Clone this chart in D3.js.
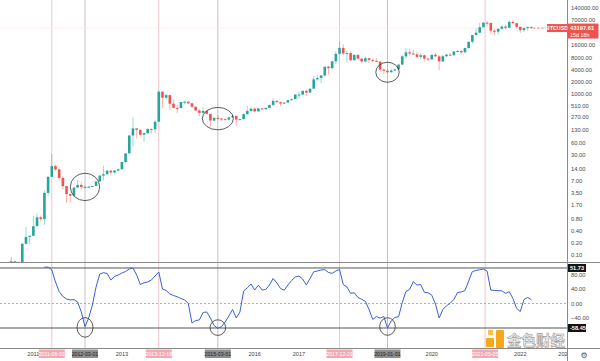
<!DOCTYPE html>
<html><head><meta charset="utf-8">
<script src="https://cdn.jsdelivr.net/npm/d3@7"></script>
<style>body{margin:0;background:#fff}svg{display:block}</style>
</head><body>
<svg id="c" width="600" height="361"></svg>
<script>
// ---------------- DATA ----------------
const firstMonth = "2010-07";           // first monthly candle
// BTCUSD monthly candles [open, high, low, close]
const btcMonthly = [
  // 2010 Jul-Dec
  [0.05,0.09,0.05,0.07],[0.07,0.07,0.06,0.06],[0.06,0.07,0.06,0.06],[0.06,0.20,0.06,0.19],[0.19,0.50,0.19,0.28],[0.28,0.30,0.18,0.30],
  // 2011
  [0.30,0.95,0.29,0.52],[0.52,1.10,0.52,0.86],[0.86,0.95,0.68,0.78],[0.78,4.00,0.56,3.50],[3.50,9.00,3.00,8.74],[8.74,31.9,8.70,16.1],
  [16.1,17.5,12.0,13.35],[13.35,15.0,7.0,8.2],[8.2,9.0,4.2,5.14],[5.14,5.15,2.0,3.25],[3.25,3.5,2.0,2.97],[2.97,4.7,2.8,4.72],
  // 2012
  [4.72,7.4,4.7,5.5],[5.5,6.3,4.2,4.86],[4.86,5.4,4.7,4.9],[4.9,5.2,4.7,4.97],[4.97,5.2,4.9,5.19],[5.19,6.8,5.2,6.7],
  [6.7,9.7,6.5,9.35],[9.35,16.4,7.1,10.12],[10.12,12.9,9.9,12.4],[12.4,12.9,9.8,11.2],[11.2,12.8,10.5,12.55],[12.55,14.0,12.2,13.5],
  // 2013
  [13.5,20.7,13.2,20.4],[20.4,33.4,19.1,33.4],[33.4,95,33.2,93],[93,266,50,139],[139,140,79,128],[128,129.8,88,97],
  [97,110,65,106],[106,138,100,135],[135,139,105,132],[132,220,105,204],[204,1242,197,1130],[1130,1160,450,805],
  // 2014
  [805,1000,730,935],[935,950,400,570],[570,720,450,450],[450,540,340,445],[445,630,440,630],[630,680,550,640],
  [640,650,565,585],[585,600,445,480],[480,490,370,387],[387,415,275,338],[338,460,322,378],[378,385,310,320],
  // 2015
  [320,320,152,218],[218,265,212,254],[254,300,235,244],[244,262,213,236],[236,247,225,230],[230,268,218,263],
  [263,318,253,284],[284,285,162,230],[230,245,225,236],[236,335,235,314],[314,502,300,377],[377,468,348,430],
  // 2016
  [430,462,350,368],[368,448,365,437],[437,440,393,416],[416,467,414,448],[448,550,437,532],[532,780,500,673],
  [673,703,605,624],[624,628,500,575],[575,611,570,609],[609,720,608,700],[700,754,683,742],[742,980,742,964],
  // 2017
  [964,1150,750,965],[965,1200,920,1190],[1190,1290,890,1080],[1080,1350,1060,1350],[1350,2760,1350,2300],[2300,3000,2100,2480],
  [2480,2920,1830,2870],[2870,4750,2700,4730],[4730,5000,2970,4340],[4340,6470,4100,6450],[6450,11400,5500,9900],[9900,19700,9500,13900],
  // 2018
  [13900,17200,9200,10100],[10100,11800,6000,10300],[10300,11700,6500,6900],[6900,9800,6500,9250],[9250,10000,7100,7500],[7500,7800,5750,6400],
  [6400,8500,6100,7730],[7730,7760,5880,7000],[7000,7400,6100,6630],[6630,7700,6200,6320],[6320,6600,3600,4000],[4000,4300,3120,3740],
  // 2019
  [3740,4100,3350,3450],[3450,4200,3400,3820],[3820,4100,3750,4100],[4100,5600,4050,5350],[5350,9100,5330,8570],[8570,13880,7500,10800],
  [10800,13200,9100,10080],[10080,12330,9400,9600],[9600,10950,7700,8300],[8300,10350,7300,9150],[9150,9500,6500,7550],[7550,7750,6430,7200],
  // 2020
  [7200,9580,6860,9350],[9350,10500,8450,8550],[8550,9190,3850,6430],[6430,9470,6150,8630],[8630,10080,8100,9450],[9450,10400,8830,9140],
  [9140,11450,8980,11350],[11350,12480,10950,11650],[11650,12080,9880,10780],[10780,14100,10380,13800],[13800,19900,13200,19700],[19700,29300,17600,28990],
  // 2021
  [28990,41950,28130,33100],[33100,58350,32300,45200],[45200,61780,45000,58800],[58800,64900,47000,57700],[57700,59600,30000,37300],[37300,41300,28800,35000],
  [35000,42400,29300,41500],[41500,50500,37300,47100],[47100,52900,39600,43800],[43800,67000,43300,61300],[61300,69000,53300,57000],[57000,59100,42000,46200],
  // 2022 Jan-Apr
  [46200,47990,32900,38480],[38480,45800,34300,43190],[43190,48200,37200,45530],[45530,47400,42100,43197.61]
];
const lastPrice = "43197.61";
const lastPriceCountdown = "15d 18h";
const symbol = "BTCUSD";

// oscillator (monthly, from 2011-04)
const oscFirstMonth = "2011-04";
const oscValues = [
  100,100.7,92.4,59.3,33.1,19.3,12.4,9.7,11,
  4.1,-23.4,-64,-40,-4.1,45.5,81.4,85,82.8,64.8,74.5,78.6,
  84.1,88.3,95.2,97.9,78.6,52.4,57.4,59.3,64.8,75.9,86.9,40,
  35.9,26.2,22.1,18.5,13.8,9.7,0.6,-53.8,-46.9,-45.5,-24.8,-23.4,
  -40,-60.7,-68.4,-64,-51,-34.5,-16.6,-40,-23.4,34.5,43.3,53.8,
  37.2,50.5,37.2,38.6,51,69,56.6,41.4,36.7,51,63.4,73.1,
  75.9,67.6,51,69,87.4,89.7,92.4,93.5,85.5,83.3,89.7,93.8,
  52.4,45.5,28.1,29.5,16.6,11.6,6.1,-16.6,-44.1,-35.6,-40.6,-35.9,
  -67.6,-48.3,-38.3,-36.7,2.8,33.1,38.9,60.1,51,52.4,30.9,29.5,
  22.9,-1.4,-40,-16.6,-6.3,0.8,11.3,30.3,31.7,35.9,62.1,88.3,
  91,93,95.2,89.1,37.2,35.9,35.3,35,27.9,32.6,13.8,-13.5,
  -22.1,11,16.6,10.2
];
const oscBandLevels = [98, -67.6];
const oscBandTags = ["51.73", "-58.45"];
const oscTicks = [80, 40, 0, -40];

const priceTicks = [140000,70000,16000,8000,4000,2000,1000,510,270,130,60,30,14,7,3.5,1.7,0.8,0.4,0.2,0.1];
const yearTicks = ["2011-01-01","2013-01-01","2016-01-01","2017-01-01","2020-01-01","2022-01-01","2023-01-01"];

// vertical marker lines: label text and the bar they sit on
const markerLabels = ["2011-06-01","2012-03-01","2013-12-18","2015-03-01","2017-12-21","2019-01-01","2021-05-05"];
const markerBars   = ["2011-06-01","2012-03-01","2013-11-01","2015-03-01","2017-12-01","2019-01-01","2021-03-15"];
const markerKinds  = ["top","bottom","top","bottom","top","bottom","top"];

// circled areas: [bar date, value, rx, ry]
const priceCircles = [["2012-03-01",4.9,14.7,13.7],["2015-03-01",244,15.5,11.2],["2019-01-01",3450,11.7,10]];
const oscCircles = [["2012-03-01",-66,8,9.8],["2015-03-01",-66.5,7.8,7.8],["2019-01-01",-63.5,7.8,8.8]];

// ---------------- HELPERS ----------------
function monthIndex(s){ // months since 2010-01, fractional by day
  const p = s.split("-").map(Number);
  return (p[0]-2010)*12 + (p[1]-1) + ((p[2]||1)-1)/30.5;
}
const W = 600, H = 361;
const axisX = 567.5;
const priceTop = 0, priceBottom = 262;
const oscTop = 262, oscBottom = 348;

const x = d3.scaleLinear().domain([monthIndex("2012-03-01"), monthIndex("2019-01-01")]).range([85, 387.5]);
const y = d3.scaleLog().domain([0.1, 140000]).range([255, 7.5]);
const yo = d3.scaleLinear().domain([-40, 80]).range([318, 274.5]);

const svg = d3.select("#c");
const font = "'Liberation Sans', Arial, sans-serif";
svg.append("rect").attr("width",W).attr("height",H).attr("fill","#fff");

const bars = btcMonthly.map((d,i)=>({mi: monthIndex(firstMonth)+i, o:d[0], h:d[1], l:d[2], c:d[3]}));

svg.append("clipPath").attr("id","pc").append("rect").attr("x",0).attr("y",priceTop).attr("width",axisX).attr("height",priceBottom-priceTop);
svg.append("clipPath").attr("id","oc").append("rect").attr("x",0).attr("y",oscTop).attr("width",axisX).attr("height",oscBottom-oscTop);

// marker vertical lines
const mk = markerBars.map((b,i)=>({x:x(monthIndex(b)), label:markerLabels[i], kind:markerKinds[i]}));
svg.append("g").selectAll("line").data(mk).join("line")
  .attr("x1",d=>d.x).attr("x2",d=>d.x).attr("y1",0).attr("y2",oscBottom)
  .attr("stroke",d=>d.kind==="top"?"#f3c4ca":"#c2c2c2").attr("stroke-width",1);

// last-price line
const lastClose = bars[bars.length-1].c;
svg.append("line").attr("x1",0).attr("x2",axisX).attr("y1",y(lastClose)).attr("y2",y(lastClose))
  .attr("stroke","#f8e2e2").attr("stroke-width",0.7);
svg.append("line").attr("x1",x(bars[bars.length-1].mi)+2).attr("x2",547).attr("y1",y(lastClose)).attr("y2",y(lastClose))
  .attr("stroke","#ef5350").attr("stroke-width",0.8).attr("stroke-dasharray","2,2");

// candles
const gC = svg.append("g").attr("clip-path","url(#pc)");
const up = "#26a69a", dn = "#ef5350";
gC.selectAll("line.w").data(bars).join("line").attr("class","w")
  .attr("x1",d=>x(d.mi)).attr("x2",d=>x(d.mi)).attr("y1",d=>y(d.h)).attr("y2",d=>y(d.l))
  .attr("stroke",d=>d.c>=d.o?up:dn).attr("stroke-opacity",0.45).attr("stroke-width",1);
const bw = 2.6;
gC.selectAll("rect.b").data(bars).join("rect").attr("class","b")
  .attr("x",d=>x(d.mi)-bw/2).attr("width",bw)
  .attr("y",d=>Math.min(y(d.o),y(d.c)))
  .attr("height",d=>Math.max(1,Math.abs(y(d.o)-y(d.c))))
  .attr("fill",d=>d.c>=d.o?up:dn);

// pane separator
svg.append("line").attr("x1",0).attr("x2",axisX).attr("y1",priceBottom+0.5).attr("y2",priceBottom+0.5).attr("stroke","#8a8a8a");

// oscillator
const gO = svg.append("g").attr("clip-path","url(#oc)");
gO.append("line").attr("x1",0).attr("x2",axisX).attr("y1",yo(0)).attr("y2",yo(0))
  .attr("stroke","#9a9a9a").attr("stroke-width",0.8).attr("stroke-dasharray","2,2");
gO.selectAll("line.band").data(oscBandLevels).join("line").attr("class","band")
  .attr("x1",0).attr("x2",axisX).attr("y1",d=>yo(d)).attr("y2",d=>yo(d))
  .attr("stroke","#555").attr("stroke-width",1);
const oscStart = monthIndex(oscFirstMonth);
const oscPts = oscValues.map((v,i)=>[x(oscStart+i), yo(v)]);
gO.append("path").attr("d",d3.line()(oscPts)).attr("fill","none").attr("stroke","#3b5fd8").attr("stroke-width",1);

// circles
svg.append("g").selectAll("ellipse").data(priceCircles).join("ellipse")
  .attr("cx",d=>x(monthIndex(d[0]))).attr("cy",d=>y(d[1])).attr("rx",d=>d[2]).attr("ry",d=>d[3])
  .attr("fill","none").attr("stroke","#333").attr("stroke-width",0.8);
svg.append("g").selectAll("ellipse").data(oscCircles).join("ellipse")
  .attr("cx",d=>x(monthIndex(d[0]))).attr("cy",d=>yo(d[1])).attr("rx",d=>d[2]).attr("ry",d=>d[3])
  .attr("fill","none").attr("stroke","#333").attr("stroke-width",0.8);

// watermark (drawn above the time axis labels' row)
const wm = svg.append("g");
wm.append("rect").attr("x",486).attr("y",338).attr("width",8).attr("height",9).attr("rx",1).attr("fill","#f5a81c");
wm.append("rect").attr("x",496).attr("y",330).attr("width",8).attr("height",18).attr("rx",1).attr("fill","#f5a81c");
wm.append("rect").attr("x",488).attr("y",330).attr("width",5).attr("height",5).attr("fill","#f8c24a");
wm.append("text").attr("x",507).attr("y",346).attr("font-family","'Noto Sans CJK SC'").attr("font-size",14.5)
  .attr("font-weight","bold").attr("fill","#ececec").attr("fill-opacity",0.85).attr("stroke","#9c9c9c").attr("stroke-width",0.6)
  .text("金色财经");

// time axis line
svg.append("line").attr("x1",0).attr("x2",axisX).attr("y1",oscBottom+0.5).attr("y2",oscBottom+0.5).attr("stroke","#8a8a8a");

// year labels
svg.append("g").selectAll("text").data(yearTicks).join("text")
  .attr("x",d=>x(monthIndex(d))).attr("y",356).attr("text-anchor","middle")
  .attr("font-family",font).attr("font-size",5.6).attr("fill","#444").text(d=>d.slice(0,4));

// marker labels on time axis
const gM = svg.append("g");
mk.forEach(d=>{
  gM.append("rect").attr("x",d.x-13).attr("y",349.5).attr("width",26).attr("height",8.5)
    .attr("fill",d.kind==="top"?"#f4a9b2":"#8f8f8f");
  gM.append("text").attr("x",d.x).attr("y",356).attr("text-anchor","middle")
    .attr("font-family",font).attr("font-size",5.2).attr("fill",d.kind==="top"?"#fff":"#1e1e1e").text(d.label);
});

// right axis area
svg.append("rect").attr("x",axisX).attr("y",0).attr("width",W-axisX).attr("height",H).attr("fill","#fff");
svg.append("line").attr("x1",axisX).attr("x2",axisX).attr("y1",0).attr("y2",H).attr("stroke","#8a8a8a");
svg.append("line").attr("x1",axisX).attr("x2",W).attr("y1",priceBottom+0.5).attr("y2",priceBottom+0.5).attr("stroke","#8a8a8a");
svg.append("line").attr("x1",axisX).attr("x2",W).attr("y1",oscBottom+0.5).attr("y2",oscBottom+0.5).attr("stroke","#8a8a8a");

svg.append("g").selectAll("text").data(priceTicks).join("text")
  .attr("x",571).attr("y",d=>y(d)+2).attr("font-family",font).attr("font-size",5.8).attr("fill","#4a4a4a")
  .text(d=>d3.format(".2f")(d));
svg.append("g").selectAll("text").data(oscTicks).join("text")
  .attr("x",571).attr("y",d=>yo(d)+2).attr("font-family",font).attr("font-size",5.8).attr("fill","#4a4a4a")
  .text(d=>(d<0?"\u2212":"")+d3.format(".2f")(Math.abs(d)));

// osc band tags
oscBandLevels.forEach((v,i)=>{
  svg.append("rect").attr("x",568).attr("y",yo(v)-4).attr("width",18).attr("height",8).attr("fill","#131313");
  svg.append("text").attr("x",570).attr("y",yo(v)+2).attr("font-family",font).attr("font-size",5.6)
    .attr("font-weight","bold").attr("fill","#fff").text(oscBandTags[i]);
});

// last price tags
const ly = y(lastClose);
svg.append("rect").attr("x",547).attr("y",ly-4).attr("width",20).attr("height",8).attr("fill","#ef5350");
svg.append("text").attr("x",557).attr("y",ly+2).attr("text-anchor","middle").attr("font-family",font)
  .attr("font-size",5.4).attr("font-weight","bold").attr("fill","#fff").text(symbol);
svg.append("rect").attr("x",567.5).attr("y",ly-4.5).attr("width",31).attr("height",15).attr("fill","#ef5350");
svg.append("text").attr("x",570).attr("y",ly+1.8).attr("font-family",font).attr("font-size",5.8)
  .attr("font-weight","bold").attr("fill","#fff").text(lastPrice);
svg.append("text").attr("x",570).attr("y",ly+8.5).attr("font-family",font).attr("font-size",5.4)
  .attr("fill","#fff").text(lastPriceCountdown);

// settings icon
svg.append("text").attr("x",584).attr("y",358).attr("text-anchor","middle").attr("font-family","'DejaVu Sans'")
  .attr("font-size",8).attr("fill","#555").text("\u2699");
</script>
</body></html>
